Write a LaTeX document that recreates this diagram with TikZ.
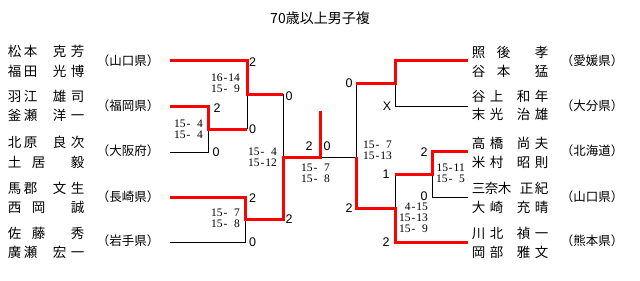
\documentclass[tikz,border=0pt]{standalone}
\usepackage{fontspec}
\newfontfamily\jp{Noto Sans CJK JP}
\newfontfamily\ars{Liberation Sans}
\newfontfamily\tms{Liberation Serif}
\newcommand\cc[2]{\makebox[0pt][l]{\hspace*{#1}\makebox[0pt]{#2}}}
\newcommand\dsh{\makebox[5.7pt]{-}}
\newcommand\spc{\hspace*{5.7pt}}
\tikzset{
  win/.style={draw=red, line width=3pt},
  lose/.style={draw=black, line width=0.9pt},
  namebox/.style={anchor=west, inner sep=0pt, font=\jp\fontsize{13.5}{14}\selectfont},
  prefbox/.style={inner sep=0pt, font=\jp\fontsize{12.5}{13}\selectfont},
  scorebox/.style={inner sep=0pt, font=\ars\fontsize{12.5}{13}\selectfont},
  setbox/.style={anchor=east, inner sep=0pt, align=right, font=\tms\fontsize{11.5}{10.8}\selectfont},
}
\begin{document}
\begin{tikzpicture}[x=1pt,y=-1pt]
\useasboundingbox (0,0) rectangle (640,281);
\node[font=\jp\fontsize{14}{14}\selectfont, inner sep=0pt] (title) at (320,18.5) {70歳以上男子複};

% left names
\node[namebox] (n1a) at (0,51) {\cc{14pt}{松}\cc{30pt}{本}\cc{59pt}{克}\cc{77pt}{芳}};
\node[namebox] (n1b) at (0,71) {\cc{14pt}{福}\cc{30pt}{田}\cc{59pt}{光}\cc{77pt}{博}};
\node[namebox] (n2a) at (0,96) {\cc{14pt}{羽}\cc{30pt}{江}\cc{59pt}{雄}\cc{77pt}{司}};
\node[namebox] (n2b) at (0,115) {\cc{14pt}{釜}\cc{30pt}{瀬}\cc{59pt}{洋}\cc{77pt}{一}};
\node[namebox] (n3a) at (0,142) {\cc{14pt}{北}\cc{30pt}{原}\cc{59pt}{良}\cc{77pt}{次}};
\node[namebox] (n3b) at (0,162) {\cc{14pt}{土}\cc{38pt}{居}\cc{77pt}{毅}};
\node[namebox] (n4a) at (0,188) {\cc{14pt}{馬}\cc{30pt}{郡}\cc{59pt}{文}\cc{77pt}{生}};
\node[namebox] (n4b) at (0,207) {\cc{14pt}{西}\cc{38pt}{岡}\cc{77pt}{誠}};
\node[namebox] (n5a) at (0,233) {\cc{14pt}{佐}\cc{38pt}{藤}\cc{77pt}{秀}};
\node[namebox] (n5b) at (0,252) {\cc{14pt}{廣}\cc{30pt}{瀬}\cc{59pt}{宏}\cc{77pt}{一}};

\node[prefbox] (p1) at (128,61) {（山口県）};
\node[prefbox] (p2) at (128,106) {（福岡県）};
\node[prefbox] (p3) at (128,151) {（大阪府）};
\node[prefbox] (p4) at (128,197) {（長崎県）};
\node[prefbox] (p5) at (128,241) {（岩手県）};

% right names
\node[namebox] (m1a) at (470,52.5) {\cc{8pt}{照}\cc{33pt}{後}\cc{71pt}{孝}};
\node[namebox] (m1b) at (470,71) {\cc{8pt}{谷}\cc{33pt}{本}\cc{71pt}{猛}};
\node[namebox] (m2a) at (470,96) {\cc{8pt}{谷}\cc{26pt}{上}\cc{53pt}{和}\cc{71pt}{年}};
\node[namebox] (m2b) at (470,114) {\cc{8pt}{末}\cc{26pt}{光}\cc{53pt}{治}\cc{71pt}{雄}};
\node[namebox] (m3a) at (470,143) {\cc{8pt}{高}\cc{26pt}{橋}\cc{53pt}{尚}\cc{71pt}{夫}};
\node[namebox] (m3b) at (470,162) {\cc{8pt}{米}\cc{26pt}{村}\cc{53pt}{昭}\cc{71pt}{則}};
\node[namebox] (m4a) at (470,188) {\cc{8pt}{三}\cc{21pt}{奈}\cc{34pt}{木}\cc{56pt}{正}\cc{71pt}{紀}};
\node[namebox] (m4b) at (470,207) {\cc{8pt}{大}\cc{26pt}{崎}\cc{53pt}{充}\cc{71pt}{晴}};
\node[namebox] (m5a) at (470,233) {\cc{8pt}{川}\cc{26pt}{北}\cc{53pt}{禎}\cc{71pt}{一}};
\node[namebox] (m5b) at (470,252) {\cc{8pt}{岡}\cc{26pt}{部}\cc{53pt}{雅}\cc{71pt}{文}};

\node[prefbox] (q1) at (592,61) {（愛媛県）};
\node[prefbox] (q2) at (592,106) {（大分県）};
\node[prefbox] (q3) at (592,151) {（北海道）};
\node[prefbox] (q4) at (592,197) {（山口県）};
\node[prefbox] (q5) at (592,241) {（熊本県）};

% junction coordinates, left
\coordinate (a1) at (170,60);  \coordinate (a1x) at (247,60);
\coordinate (a2) at (170,106); \coordinate (a2x) at (208,106);
\coordinate (a3) at (170,152); \coordinate (a3x) at (208,152);
\coordinate (m1) at (208,129); \coordinate (m1x) at (247,129);
\coordinate (m2) at (247,94);  \coordinate (m2x) at (283,94);
\coordinate (a4) at (170,197); \coordinate (a4x) at (245,197);
\coordinate (a5) at (170,242); \coordinate (a5x) at (245,242);
\coordinate (m3) at (245,219); \coordinate (m3x) at (283,219);
\coordinate (sl) at (283,157); \coordinate (fin) at (320,157);
\coordinate (top) at (320,111);
% right
\coordinate (b1) at (468,60);  \coordinate (b1x) at (395,60);
\coordinate (b2) at (468,106); \coordinate (b2x) at (395,106);
\coordinate (r1) at (395,83);  \coordinate (r1x) at (356,83);
\coordinate (b3) at (468,151); \coordinate (b3x) at (432,151);
\coordinate (b4) at (468,197); \coordinate (b4x) at (432,197);
\coordinate (r2) at (432,174); \coordinate (r2x) at (395,174);
\coordinate (b5) at (468,242); \coordinate (b5x) at (395,242);
\coordinate (r3) at (395,208); \coordinate (r3x) at (356,208);
\coordinate (sr) at (356,157);

% losing lines
\draw[lose] (a3) -- (a3x) -- (m1);
\draw[lose] (m1x) -- (m2);
\draw[lose] (m2x) -- (sl);
\draw[lose] (a5) -- (a5x) -- (m3);
\draw[lose] (fin) -- (sr);
\draw[lose] (b2) -- (b2x) -- (r1);
\draw[lose] (r1x) -- (sr);
\draw[lose] (b4) -- (b4x) -- (r2);
\draw[lose] (r2x) -- (r3);

% winning lines
\draw[win] (a1) -- (a1x) -- (m2) -- (m2x);
\draw[win] (a2) -- (a2x) -- (m1) -- (m1x);
\draw[win] (a4) -- (a4x) -- (m3) -- (m3x) -- (sl) -- (fin) -- (top);
\draw[win] (b1) -- (b1x) -- (r1) -- (r1x);
\draw[win] (b3) -- (b3x) -- (r2) -- (r2x);
\draw[win] (b5) -- (b5x) -- (r3) -- (r3x) -- (sr);

% scores left
\node[scorebox] (s1) at (252.5,62.5) {2};
\node[scorebox] (s2) at (217,108) {2};
\node[scorebox] (s3) at (216,152) {0};
\node[scorebox] (s4) at (252.5,129) {0};
\node[scorebox] (s5) at (289,96) {0};
\node[scorebox] (s6) at (309,146) {2};
\node[scorebox] (s7) at (327,146) {0};
\node[scorebox] (s8) at (252.5,198) {2};
\node[scorebox] (s9) at (252.5,242) {0};
\node[scorebox] (s10) at (289,219) {2};
% scores right
\node[scorebox] (t1) at (349,83) {0};
\node[scorebox] (t2) at (387,106) {X};
\node[scorebox] (t3) at (424,152) {2};
\node[scorebox] (t4) at (386,174) {1};
\node[scorebox] (t5) at (424,196) {0};
\node[scorebox] (t6) at (349,208) {2};
\node[scorebox] (t7) at (386,242) {2};

% set scores
\node[setbox] (g1) at (203,129) {15\dsh\spc4\\15\dsh\spc4};
\node[setbox] (g2) at (240,83) {16\dsh14\\15\dsh\spc9};
\node[setbox] (g3) at (277,157) {15\dsh\spc4\\15\dsh12};
\node[setbox] (g4) at (330,173) {15\dsh\spc7\\15\dsh\spc8};
\node[setbox] (g5) at (240,218) {15\dsh\spc7\\15\dsh\spc8};
\node[setbox] (h1) at (392,150) {15\dsh\spc7\\15\dsh13};
\node[setbox] (h2) at (465,173) {15\dsh11\\15\dsh\spc5};
\node[setbox] (h3) at (428,218) {4\dsh15\\15\dsh13\\15\dsh\spc9};
\end{tikzpicture}
\end{document}
